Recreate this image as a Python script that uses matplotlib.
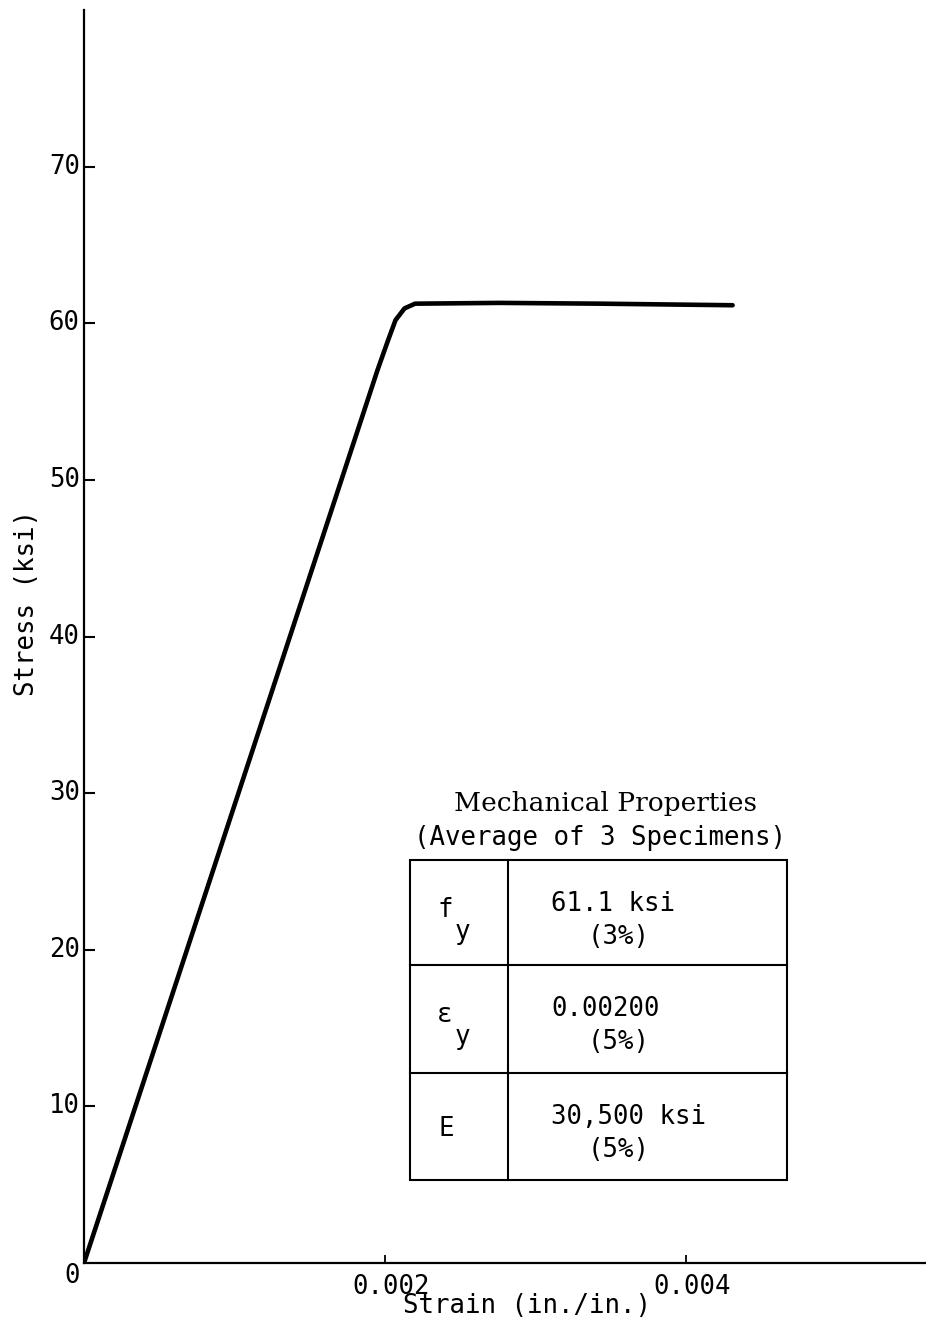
import matplotlib
matplotlib.use('Agg')
import matplotlib.pyplot as plt
from matplotlib.lines import Line2D
from matplotlib.patches import Rectangle
from matplotlib.transforms import ScaledTranslation

# stress-strain curve
strain = [0.0, 0.001950, 0.002020, 0.002070, 0.002130, 0.002200,
          0.002760, 0.003430, 0.004310]
stress = [0.0, 57.0, 58.9, 60.2, 60.95, 61.25,
          61.3, 61.25, 61.15]

x_ticks = [0.002, 0.004]
x_ticklabels = ['0.002', '0.004']
y_ticks = [10, 20, 30, 40, 50, 60, 70]
y_ticklabels = ['10', '20', '30', '40', '50', '60', '70']

table_title = ['Mechanical Properties', '(Average of 3 Specimens)']
prop_symbols = ['f', 'ε', 'E']
prop_subscripts = ['y', 'y', '']
prop_values = ['61.1 ksi', '0.00200', '30,500 ksi']
prop_scatter = ['(3%)', '(5%)', '(5%)']

W, H = 926, 1330
MONO = 'DejaVu Sans Mono'
FS = 18.5


def fx(px):
    return px / W


def fy(py):
    return 1 - py / H


fig = plt.figure(figsize=(W / 100, H / 100), dpi=100)
ax = fig.add_axes([fx(84), fy(1263), fx(W) - fx(84), fy(10) - fy(1263)])

ax.plot(strain, stress, color='black', linewidth=3.3, solid_capstyle='round',
        solid_joinstyle='round')

ax.set_xlim(0, 0.005595)
ax.set_ylim(0, 80)
for side in ('top', 'right'):
    ax.spines[side].set_visible(False)
for side in ('left', 'bottom'):
    ax.spines[side].set_linewidth(1.6)

ax.set_xticks(x_ticks, x_ticklabels)
ax.set_yticks(y_ticks, y_ticklabels)
ax.tick_params(axis='x', direction='in', length=6, width=1.3, pad=8,
               labelsize=FS)
ax.tick_params(axis='y', direction='in', length=8, width=1.5, pad=3,
               labelsize=FS)
for lab in ax.get_xticklabels() + ax.get_yticklabels():
    lab.set_family(MONO)
for lab in ax.get_xticklabels():
    lab.set_transform(lab.get_transform() +
                      ScaledTranslation(0.06, 0, fig.dpi_scale_trans))
for lab in ax.get_yticklabels():
    lab.set_transform(lab.get_transform() +
                      ScaledTranslation(0, 0.03, fig.dpi_scale_trans))

# shared origin label
ax.annotate('0', xy=(0, 0), xytext=(-8.5, -9.5), textcoords='offset points',
            ha='center', va='center', fontsize=FS, family=MONO)

fig.text(fx(527), fy(1306), 'Strain (in./in.)', ha='center', va='center',
         fontsize=FS, family=MONO)
fig.text(fx(27), fy(603), 'Stress (ksi)', ha='center', va='center',
         rotation=90, fontsize=FS, family=MONO)

# properties table
fig.text(fx(606), fy(803), table_title[0], ha='center', va='center',
         fontsize=19, family='DejaVu Serif')
fig.text(fx(600), fy(838), table_title[1], ha='center', va='center',
         fontsize=FS, family=MONO)

left, right, top, bottom, split = 410, 787, 860, 1180, 508
row_edges = [860, 965, 1073, 1180]
fig.add_artist(Rectangle((fx(left), fy(bottom)), fx(right) - fx(left),
                         fy(top) - fy(bottom), transform=fig.transFigure,
                         fill=False, edgecolor='black', linewidth=1.5))
fig.add_artist(Line2D([fx(split), fx(split)], [fy(top), fy(bottom)],
                      transform=fig.transFigure, color='black', linewidth=1.5))
for edge in row_edges[1:-1]:
    fig.add_artist(Line2D([fx(left), fx(right)], [fy(edge), fy(edge)],
                          transform=fig.transFigure, color='black',
                          linewidth=1.5))

for i in range(3):
    r0 = row_edges[i]
    if prop_subscripts[i]:
        fig.text(fx(445), fy(r0 + 50), prop_symbols[i], ha='center',
                 va='center', fontsize=FS, family=MONO)
        fig.text(fx(462), fy(r0 + 72), prop_subscripts[i], ha='center',
                 va='center', fontsize=FS, family=MONO)
    else:
        fig.text(fx(446), fy(r0 + 56), prop_symbols[i], ha='center',
                 va='center', fontsize=FS, family=MONO)
    fig.text(fx(551), fy(r0 + 44), prop_values[i], ha='left', va='center',
             fontsize=FS, family=MONO)
    fig.text(fx(588), fy(r0 + 77), prop_scatter[i], ha='left', va='center',
             fontsize=FS, family=MONO)

fig.savefig('out.png', dpi=100)
